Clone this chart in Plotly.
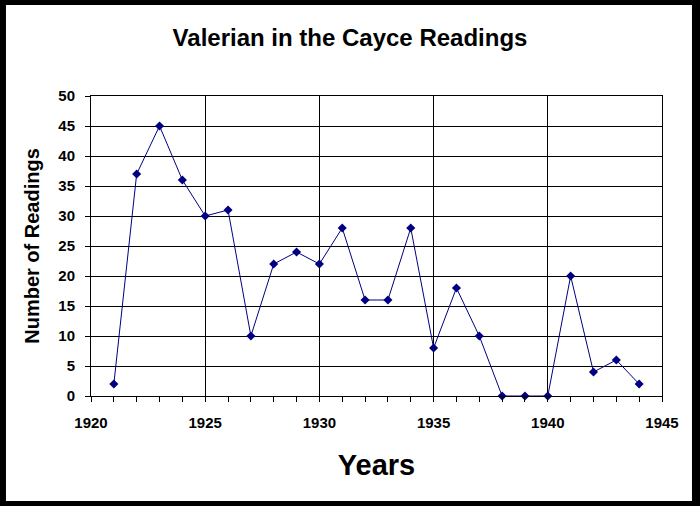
import plotly.graph_objects as go

# Valerian mentions per year in the Cayce readings
years = [1921, 1922, 1923, 1924, 1925, 1926, 1927, 1928, 1929, 1930, 1931, 1932,
         1933, 1934, 1935, 1936, 1937, 1938, 1939, 1940, 1941, 1942, 1943, 1944]
readings = [2, 37, 45, 36, 30, 31, 10, 22, 24, 22, 28, 16,
            16, 28, 8, 18, 10, 0, 0, 0, 20, 4, 6, 2]

x_ticks = [1920, 1925, 1930, 1935, 1940, 1945]
y_ticks = [0, 5, 10, 15, 20, 25, 30, 35, 40, 45, 50]

FONT = "Liberation Sans, Arial, sans-serif"
NAVY = "#000080"

fig = go.Figure()

fig.add_trace(go.Scatter(
    x=years, y=readings, mode="lines+markers",
    line=dict(color=NAVY, width=1),
    marker=dict(symbol="diamond", size=7, color=NAVY),
    showlegend=False, cliponaxis=False))

# white card on black paper -> black frame round the picture
fig.add_shape(type="rect", xref="paper", yref="paper",
              x0=-0.1489, x1=1.0525, y0=-0.35, y1=1.3033,
              fillcolor="white", line=dict(width=0), layer="below")

fig.update_layout(
    width=700, height=506,
    margin=dict(l=91, r=38, t=96, b=110, autoexpand=False),
    paper_bgcolor="black", plot_bgcolor="white",
    font=dict(family=FONT, color="black"),
    title=dict(text="<b>Valerian in the Cayce Readings</b>",
               x=0.5, xref="container", xanchor="center",
               y=1 - 38 / 506, yref="container", yanchor="middle",
               font=dict(size=24, family=FONT, color="black")),
)

fig.update_xaxes(
    range=[1920, 1945], tickvals=x_ticks, ticktext=[f"<b>{v}</b>" for v in x_ticks],
    showgrid=True, gridcolor="black", gridwidth=1,
    showline=True, linecolor="black", linewidth=1, mirror=True,
    ticks="outside", ticklen=5, tickcolor="black", ticklabelstandoff=8,
    minor=dict(dtick=1, ticks="outside", ticklen=5, tickcolor="black", showgrid=False),
    tickfont=dict(size=15, family=FONT),
    title=dict(text="<b>Years</b>", font=dict(size=29, family=FONT), standoff=24),
    zeroline=False)

fig.update_yaxes(
    range=[0, 50], tickvals=y_ticks, ticktext=[f"<b>{v}</b>" for v in y_ticks],
    showgrid=True, gridcolor="black", gridwidth=1,
    showline=True, linecolor="black", linewidth=1, mirror=True,
    ticks="outside", ticklen=5, tickcolor="black", ticklabelstandoff=7,
    tickfont=dict(size=15, family=FONT),
    title=dict(text="<b>Number of Readings</b>", font=dict(size=20, family=FONT), standoff=13),
    zeroline=False)

# drop the page's default body margin so the figure sits at the window corner
fig.write_html("out.html", config={"displayModeBar": False},
               post_script="document.body.style.margin='0px';")
